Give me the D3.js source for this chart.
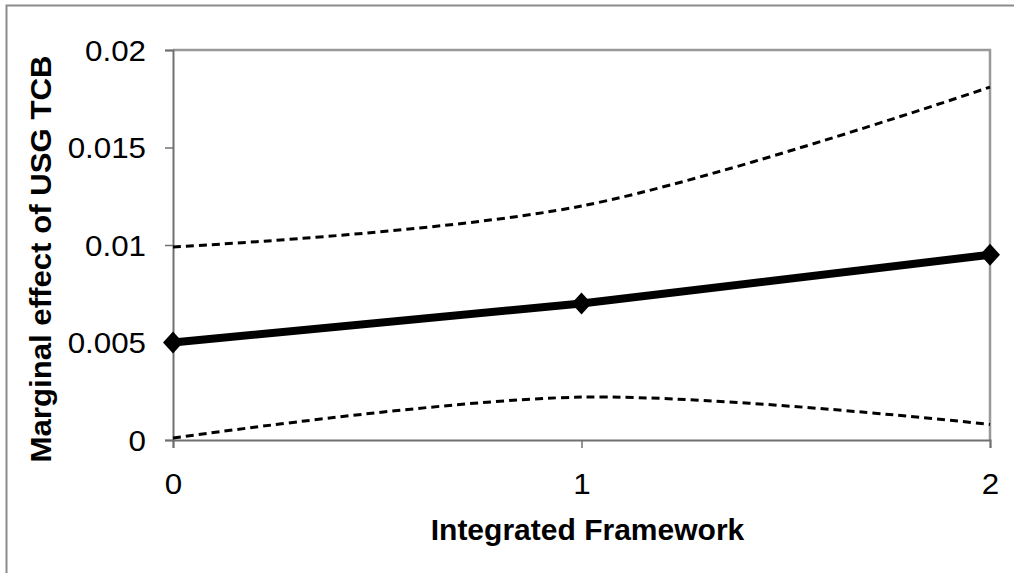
<!DOCTYPE html>
<html>
<head>
<meta charset="utf-8">
<script src="https://cdn.jsdelivr.net/npm/d3@7"></script>
<style>
  html, body { margin: 0; padding: 0; background: #fff; }
  svg { display: block; font-family: "Liberation Sans", Arial, sans-serif; }
</style>
</head>
<body>
<svg id="chart" width="1014" height="573"></svg>
<script>
// Integrated Framework levels on the x axis
const levels = [0, 1, 2];
// Marginal effect estimate and its upper / lower confidence bounds
const effect = [0.0050, 0.0070, 0.0095];
const upperBound = [0.0099, 0.0120, 0.0181];
const lowerBound = [0.0001, 0.0022, 0.0008];
// Axis ticks
const yTicks = [0, 0.005, 0.01, 0.015, 0.02];
const xTicks = [0, 1, 2];
const yTickLabels = ["0", "0.005", "0.01", "0.015", "0.02"];
const xTitle = "Integrated Framework";
const yTitle = "Marginal effect of USG TCB";

const svg = d3.select("#chart");
const plot = { left: 173, right: 990, top: 50, bottom: 440 };

// Outer chart frame
svg.append("rect")
  .attr("x", 6.5).attr("y", 5.5)
  .attr("width", 1100).attr("height", 700)
  .attr("fill", "none").attr("stroke", "#8c8c8c").attr("stroke-width", 2);

const x = d3.scaleLinear().domain([0, 2]).range([plot.left, plot.right]);
const y = d3.scaleLinear().domain([0, 0.02]).range([plot.bottom, plot.top]);

// Plot area border (top and right)
svg.append("path")
  .attr("d", `M${plot.left},${plot.top}H${plot.right}V${plot.bottom}`)
  .attr("fill", "none").attr("stroke", "#999").attr("stroke-width", 2.5);

// stretch text horizontally a little
function widen(sel, k) {
  sel.each(function () {
    const w = this.getComputedTextLength();
    d3.select(this).attr("textLength", w * k).attr("lengthAdjust", "spacingAndGlyphs");
  });
}

// Y axis
const yAxis = svg.append("g")
  .attr("transform", `translate(${plot.left},0)`)
  .call(d3.axisLeft(y).tickValues(yTicks)
    .tickFormat((d, i) => yTickLabels[i]).tickSize(8).tickPadding(19));
yAxis.select(".domain").attr("stroke", "#707070").attr("stroke-width", 2);
yAxis.selectAll(".tick line").attr("stroke", "#707070").attr("stroke-width", 1.5);
yAxis.selectAll(".tick text")
  .attr("font-size", 29).attr("fill", "#000").attr("font-family", "Liberation Sans, Arial, sans-serif")
  .attr("dy", "0.36em")
  .call(widen, 1.08);

// X axis
const xAxis = svg.append("g")
  .attr("transform", `translate(0,${plot.bottom})`)
  .call(d3.axisBottom(x).tickValues(xTicks).tickFormat(d3.format("d")).tickSize(8).tickPadding(25));
xAxis.select(".domain").attr("stroke", "#707070").attr("stroke-width", 2);
xAxis.selectAll(".tick line").attr("stroke", "#707070").attr("stroke-width", 1.5);
xAxis.selectAll(".tick text")
  .attr("font-size", 29).attr("fill", "#000").attr("font-family", "Liberation Sans, Arial, sans-serif")
  .attr("dy", "0.71em")
  .call(widen, 1.08);

// Axis titles
svg.append("text")
  .attr("x", (plot.left + plot.right) / 2 + 6).attr("y", 540)
  .attr("text-anchor", "middle").attr("font-weight", "bold").attr("font-size", 29)
  .text(xTitle)
  .call(widen, 1.035);

svg.append("text")
  .attr("transform", `translate(51,${259}) rotate(-90)`)
  .attr("text-anchor", "middle").attr("font-weight", "bold").attr("font-size", 29)
  .text(yTitle)
  .call(widen, 1.075);

// Confidence bounds: smoothed dashed curves
const smooth = d3.line()
  .x((d, i) => x(levels[i]))
  .y(d => y(d))
  .curve(d3.curveCatmullRom.alpha(0));

[upperBound, lowerBound].forEach(series => {
  svg.append("path")
    .attr("d", smooth(series))
    .attr("fill", "none").attr("stroke", "#000")
    .attr("stroke-width", 3).attr("stroke-dasharray", "8,5");
});

// Marginal effect: thick straight line with diamond markers
const straight = d3.line()
  .x((d, i) => x(levels[i]))
  .y(d => y(d));

svg.append("path")
  .attr("d", straight(effect))
  .attr("fill", "none").attr("stroke", "#000").attr("stroke-width", 8);

svg.selectAll(".marker")
  .data(effect)
  .join("path")
  .attr("class", "marker")
  .attr("transform", (d, i) => `translate(${x(levels[i])},${y(d)})`)
  .attr("d", "M0,-11L10,0L0,11L-10,0Z")
  .attr("fill", "#000");
</script>
</body>
</html>
